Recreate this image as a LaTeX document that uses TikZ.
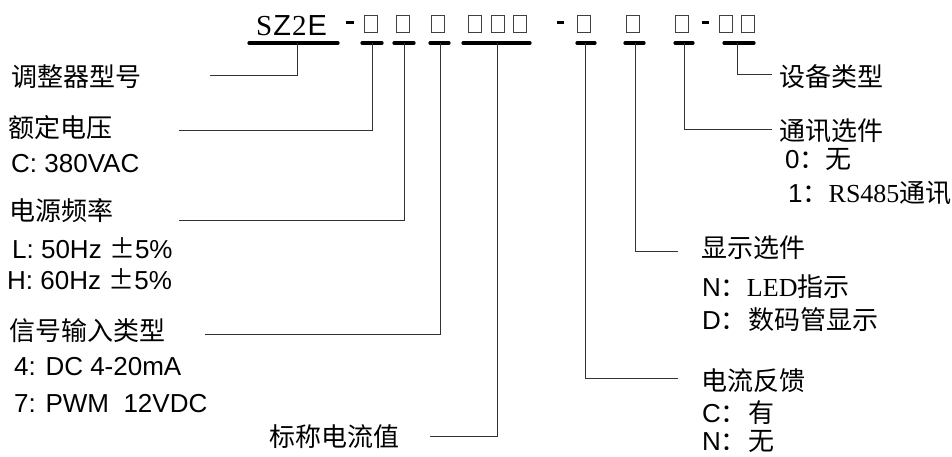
\documentclass[tikz,border=0pt]{standalone}
\usepackage{fontspec}
\setmainfont{Liberation Sans}
\newfontfamily\cjk{Noto Sans CJK SC}
\newfontfamily\serif{Liberation Serif}
\begin{document}
\begin{tikzpicture}[x=1pt,y=-1pt,
  lbl/.style={anchor=base west, inner sep=0pt, font=\fontsize{26}{26}\selectfont},
  ul/.style={line width=3.2pt, line cap=round},
  conn/.style={line width=0.9pt, draw=black!80},
  bx/.style={draw=black!75, line width=1pt, minimum width=13pt, minimum height=17pt, inner sep=0pt},
  dsh/.style={line width=2.6pt}]
\useasboundingbox (0,0) rectangle (952,456);
% title
\node[lbl, font=\fontsize{29}{29}\selectfont] (title) at (256,35) {{\serif S}\kern1pt Z\kern1pt{\serif 2}\kern1pt E};
% boxes
\foreach \n/\x in {b1/371,b2/403,b3/438,b4a/475,b4b/498,b4c/520,b5/584,b6/633,b7/682,b8a/726,b8b/748}
  \node[bx] (\n) at (\x,23.5) {};
% dashes
\draw[dsh] (346,22.5) -- (354,22.5);
\draw[dsh] (557,22.5) -- (564,22.5);
\draw[dsh] (702,22.5) -- (709,22.5);
% underlines
\draw[ul] (249,43) -- (338,43);
\draw[ul] (362,43) -- (382,43);
\draw[ul] (394,43) -- (414,43);
\draw[ul] (430,43) -- (449,43);
\draw[ul] (463,43) -- (530,43);
\draw[ul] (577,43) -- (595,43);
\draw[ul] (625,43) -- (644,43);
\draw[ul] (675,43) -- (693,43);
\draw[ul] (724,43) -- (754,43);
\coordinate (u0) at (297,43);
\coordinate (u1) at (372,43);
\coordinate (u2) at (404,43);
\coordinate (u3) at (440,43);
\coordinate (u4) at (497,43);
\coordinate (u5) at (585,43);
\coordinate (u6) at (635,43);
\coordinate (u7) at (684,43);
\coordinate (u8) at (737,43);
\coordinate (e0) at (210,75);
\coordinate (e1) at (179,130);
\coordinate (e2) at (179,220);
\coordinate (e3) at (205,334);
\coordinate (e4) at (430,436);
\coordinate (e5) at (678,378);
\coordinate (e6) at (678,251);
\coordinate (e7) at (772,129);
\coordinate (e8) at (772,74);
\foreach \i in {0,...,8} \draw[conn] (u\i) |- (e\i);
% left labels
\node[lbl] (t0) at (11,86) {\cjk 调整器型号};
\node[lbl] (t1) at (8,137) {\cjk 额定电压};
\node[lbl] (t1a) at (11,172) {C: 380VAC};
\node[lbl] (t2) at (9,220) {\cjk 电源频率};
\node[lbl] (t2a) at (12,258) {L: 50Hz {\cjk ±}5\%};
\node[lbl] (t2b) at (7,289) {H: 60Hz {\cjk ±}5\%};
\node[lbl] (t3) at (9,340) {\cjk 信号输入类型};
\node[lbl] (t3a) at (14,375) {4: DC 4-20mA};
\node[lbl] (t3b) at (14,412) {7: PWM\ \ 12VDC};
\node[lbl] (t4) at (269,446) {\cjk 标称电流值};
% right labels
\node[lbl] (t8) at (779,86) {\cjk 设备类型};
\node[lbl] (t7) at (779,140) {\cjk 通讯选件};
\node[lbl] (t7a) at (785,168) {0{\cjk ：}{\cjk 无}};
\node[lbl] (t7b) at (788,202) {1{\cjk ：}{\serif RS485}{\cjk 通讯}};
\node[lbl] (t6) at (701,257) {\cjk 显示选件};
\node[lbl] (t6a) at (702,296) {N{\cjk ：}{\serif LED}{\cjk 指示}};
\node[lbl] (t6b) at (702,329) {D{\cjk ：}\hspace{2pt}{\cjk 数码管显示}};
\node[lbl] (t5) at (701,390) {\cjk 电流反馈};
\node[lbl] (t5a) at (702,422) {C{\cjk ：}\hspace{2pt}{\cjk 有}};
\node[lbl] (t5b) at (702,450) {N{\cjk ：}\hspace{2pt}{\cjk 无}};
\end{tikzpicture}
\end{document}
